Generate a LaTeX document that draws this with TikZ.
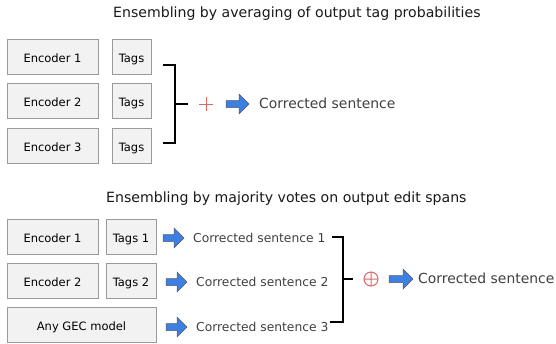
\documentclass[tikz,border=0pt]{standalone}
\usepackage{fontspec}
\setmainfont{DejaVu Sans}
\definecolor{boxfill}{HTML}{F2F2F2}
\definecolor{boxline}{HTML}{9A9A9A}
\definecolor{txtgray}{HTML}{404040}
\definecolor{plusred}{HTML}{E06666}
\definecolor{arrblue}{HTML}{3C80E4}
\definecolor{arrline}{HTML}{5A5A5A}
\begin{document}
\begin{tikzpicture}[x=1pt,y=-1pt,
  box/.style={draw=boxline,fill=boxfill,line width=0.8pt,minimum height=35pt,inner sep=0pt,
    text height=11.6pt,text depth=0pt,
    font=\fontsize{11.5}{13}\selectfont,text=black},
  title/.style={inner sep=0pt,anchor=west,font=\fontsize{14.1}{16}\selectfont,text=black!90},
  outbig/.style={inner sep=0pt,anchor=west,font=\fontsize{13.9}{16}\selectfont,text=txtgray},
  outsmall/.style={inner sep=0pt,anchor=west,font=\fontsize{12.3}{14}\selectfont,text=txtgray},
  brk/.style={line width=1.1pt,black},
  opsym/.style={plusred,line width=1pt},
  blockarrow/.style={fill=arrblue,draw=arrline,line width=0.5pt,line join=miter}
]
\useasboundingbox[fill=white] (0,0) rectangle (556,343);
\newcommand{\blockarr}[3]{% x start, x end, y
  \path[blockarrow] (#1,#3-3.5) -- (#2-10,#3-3.5) -- (#2-10,#3-10) -- (#2,#3) -- (#2-10,#3+10)
    -- (#2-10,#3+3.5) -- (#1,#3+3.5) -- cycle;}

% ---------- top part ----------
\node[title] (t1) at (113,13.5) {Ensembling by averaging of output tag probabilities};

\node[box,minimum width=91pt] (e1) at (52.5,56.5) {Encoder 1};
\node[box,minimum width=39pt] (g1) at (131.5,56.5) {Tags};
\node[box,minimum width=91pt] (e2) at (52.5,101) {Encoder 2};
\node[box,minimum width=39pt] (g2) at (131.5,101) {Tags};
\node[box,minimum width=91pt] (e3) at (52.5,145.5) {Encoder 3};
\node[box,minimum width=39pt] (g3) at (131.5,145.5) {Tags};

\coordinate (ba) at (163,65);
\coordinate (bb) at (163,143);
\coordinate (bm) at (188,104);
\draw[brk] (ba) -- (175,65) -- (175,143) -- (bb);
\draw[brk] (175,104) -- (bm);

\draw[opsym] (199,104) -- (213,104) (206,97) -- (206,111);
\blockarr{226}{249}{104}
\node[outbig] (c0) at (259,103) {Corrected sentence};

% ---------- bottom part ----------
\node[title] (t2) at (106,199) {Ensembling by majority votes on output edit spans};

\node[box,minimum width=91pt] (f1) at (52.5,236.5) {Encoder 1};
\node[box,minimum width=50pt] (h1) at (131,236.5) {Tags 1};
\node[box,minimum width=91pt] (f2) at (52.5,281) {Encoder 2};
\node[box,minimum width=50pt] (h2) at (131,281) {Tags 2};
\node[box,minimum width=149pt] (f3) at (81.5,324.5) {Any GEC model};

\blockarr{163}{184}{238}
\blockarr{166}{187}{282}
\blockarr{166}{187}{327}
\node[outsmall] (s1) at (193,237.5) {Corrected sentence 1};
\node[outsmall] (s2) at (196,281.5) {Corrected sentence 2};
\node[outsmall] (s3) at (196,326.5) {Corrected sentence 3};

\coordinate (ca) at (332,237);
\coordinate (cb) at (330,322);
\coordinate (cm) at (353,279);
\draw[brk] (ca) -- (343,237) -- (343,322) -- (cb);
\draw[brk] (343,279) -- (cm);

\draw[opsym] (371,279) circle (7) (364,279) -- (378,279) (371,272) -- (371,286);
\blockarr{389}{413}{279}
\node[outbig] (c1) at (418,278) {Corrected sentence};
\end{tikzpicture}
\end{document}
